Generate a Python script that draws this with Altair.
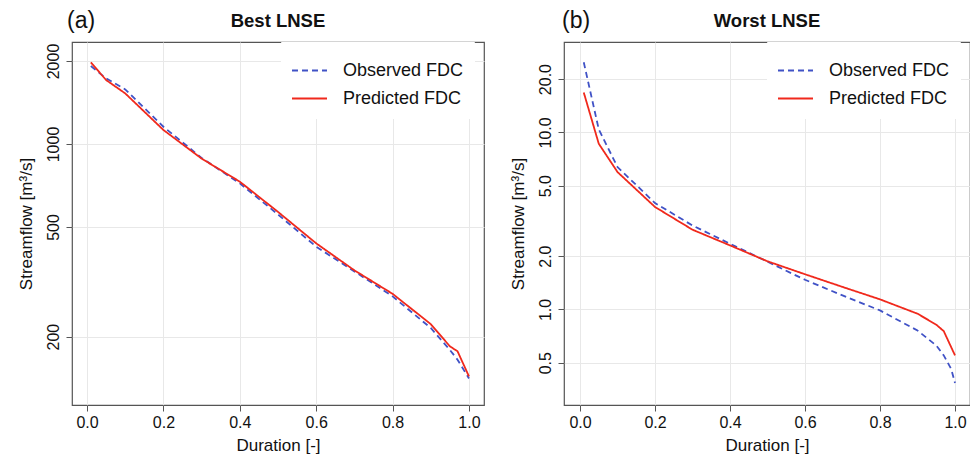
import altair as alt
import pandas as pd

# ---------------- data ----------------
series_names = ["Observed FDC", "Predicted FDC"]

# (a) Best LNSE
dur_a = [0.01, 0.05, 0.1, 0.2, 0.3, 0.4, 0.5, 0.6, 0.7, 0.8, 0.9, 0.95, 0.97, 1.0]
obs_a = [1917, 1730, 1578, 1155, 890, 720, 555, 424, 345, 280, 215, 179, 165, 141]
pred_a = [1977, 1706, 1526, 1124, 885, 730, 567, 436, 348, 286, 222, 184.5, 177, 143.5]

# (b) Worst LNSE
dur_b_obs = [0.01, 0.05, 0.1, 0.2, 0.3, 0.4, 0.5, 0.6, 0.7, 0.8, 0.9, 0.95, 0.97, 0.99, 1.0]
obs_b = [24.9, 10.4, 6.37, 3.99, 2.98, 2.35, 1.86, 1.47, 1.2, 0.987, 0.76, 0.626, 0.55, 0.46, 0.384]
dur_b_pred = [0.01, 0.05, 0.1, 0.2, 0.3, 0.4, 0.5, 0.6, 0.7, 0.8, 0.9, 0.95, 0.97, 1.0]
pred_b = [16.8, 8.63, 5.97, 3.79, 2.82, 2.30, 1.87, 1.58, 1.34, 1.14, 0.946, 0.82, 0.754, 0.55]

x_ticks = [0.0, 0.2, 0.4, 0.6, 0.8, 1.0]
y_ticks_a = [200, 500, 1000, 2000]
y_ticks_b = [0.5, 1.0, 2.0, 5.0, 10.0, 20.0]

colors = ["#4052c6", "#f0291c"]
dashes = [[6, 4], [1, 0]]
FONT = "Liberation Sans"


def frame(d_obs, v_obs, d_pred, v_pred):
    rows = []
    for d, v in zip(d_obs, v_obs):
        rows.append({"duration": d, "flow": v, "series": series_names[0]})
    for d, v in zip(d_pred, v_pred):
        rows.append({"duration": d, "flow": v, "series": series_names[1]})
    return pd.DataFrame(rows)


def panel(df, tag, tag_x, title, xdomain, ydomain, yticks, yfmt, width, height):
    legend = alt.Legend(
        title=None, orient="none", legendX=width - 203, legendY=0,
        symbolType="stroke", symbolSize=1225, symbolStrokeWidth=1.8,
        labelFontSize=18, labelFont=FONT, labelColor="#111", labelOffset=15,
        rowPadding=0, padding=10, fillColor="white", strokeColor="white",
        direction="vertical",
    )
    lines = alt.Chart(df).mark_line(strokeWidth=1.8, clip=True).encode(
        x=alt.X(
            "duration:Q",
            scale=alt.Scale(domain=xdomain, nice=False, zero=False),
            axis=alt.Axis(values=x_ticks, format=".1f", title="Duration [-]",
                          titleX=width / 2, titleY=45, titleAlign="center",
                          titleBaseline="alphabetic",
                          labelBaseline="top", labelPadding=3),
        ),
        y=alt.Y(
            "flow:Q",
            scale=alt.Scale(type="log", domain=ydomain, nice=False),
            axis=alt.Axis(values=yticks, format=yfmt, title="Streamflow [m³/s]",
                          labelAngle=270, labelAlign="center",
                          labelBaseline="alphabetic", labelPadding=8,
                          titleAngle=270, titleX=-41, titleY=height / 2,
                          titleAlign="center", titleBaseline="alphabetic"),
        ),
        color=alt.Color("series:N",
                        scale=alt.Scale(domain=series_names, range=colors),
                        legend=legend),
        strokeDash=alt.StrokeDash("series:N",
                                  scale=alt.Scale(domain=series_names, range=dashes),
                                  legend=legend),
        order=alt.Order("duration:Q"),
    )
    label = alt.Chart(pd.DataFrame({"tag": [tag]})).mark_text(
        align="left", baseline="alphabetic", fontSize=23, font=FONT, color="#111"
    ).encode(text="tag:N", x=alt.value(tag_x), y=alt.value(-14))
    head = alt.Chart(pd.DataFrame({"head": [title]})).mark_text(
        align="center", baseline="alphabetic", fontSize=18.5, fontWeight="bold",
        font=FONT, color="#111"
    ).encode(text="head:N", x=alt.value(width / 2), y=alt.value(-15))
    return alt.layer(lines, label, head).properties(width=width, height=height)


H = 363
left = panel(frame(dur_a, obs_a, dur_a, pred_a), "(a)", -5, "Best LNSE",
             [-0.0393, 1.0393], [113, 2344], y_ticks_a, "d", 412, H)
right = panel(frame(dur_b_obs, obs_b, dur_b_pred, pred_b), "(b)", -2, "Worst LNSE",
              [-0.0427, 1.04], [0.2885, 32.4], y_ticks_b, ".1f", 406, H)

chart = alt.hconcat(left, right, spacing=80, bounds="flush").resolve_scale(
    x="independent", y="independent", color="independent", strokeDash="independent"
).resolve_legend(
    color="independent", strokeDash="independent"
).properties(
    padding={"left": 16, "top": 9, "right": -1, "bottom": 2},
    background="white",
).configure_view(
    stroke="#555", strokeWidth=1.2
).configure_axis(
    domain=False, grid=True, gridColor="#e8e8e8", gridWidth=1,
    tickColor="#555", tickSize=6, tickWidth=1,
    labelFont=FONT, labelFontSize=16, labelColor="#111",
    titleFont=FONT, titleFontSize=17, titleFontWeight="normal", titleColor="#111",
)

chart.save("out.html", embed_options={"renderer": "svg", "actions": False})
